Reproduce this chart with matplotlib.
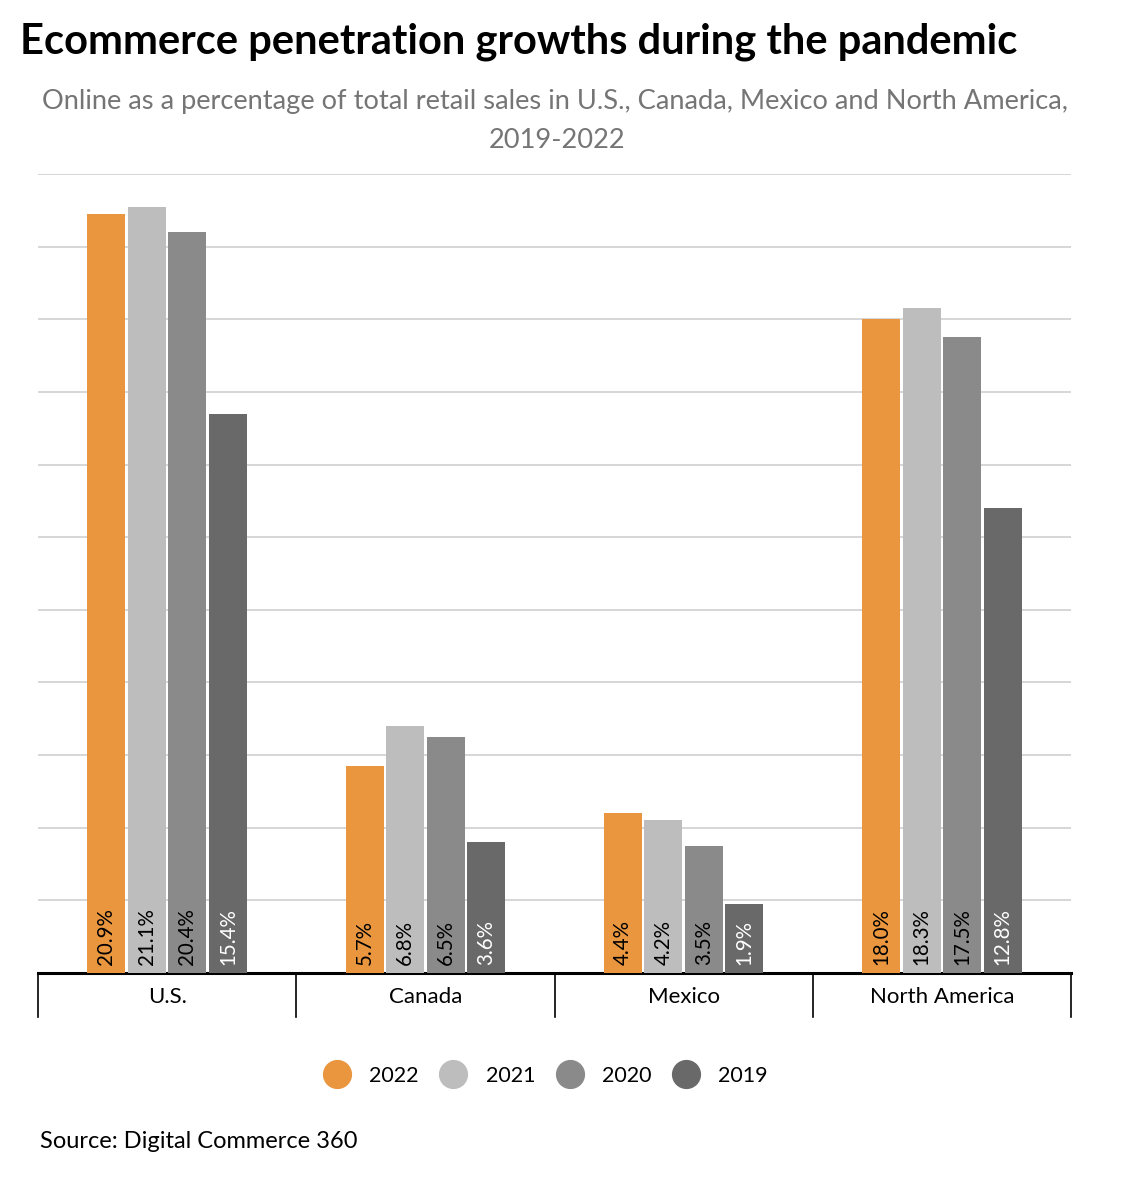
import numpy as np
import matplotlib.pyplot as plt
from matplotlib.lines import Line2D

plt.rcParams['font.family'] = ['Lato', 'DejaVu Sans']

# Datos
regiones = ["U.S.", "Canada", "Mexico", "North America"]
anios = ["2022", "2021", "2020", "2019"]
v2022 = [20.9, 5.7, 4.4, 18.0]
v2021 = [21.1, 6.8, 4.2, 18.3]
v2020 = [20.4, 6.5, 3.5, 17.5]
v2019 = [15.4, 3.6, 1.9, 12.8]
series = [v2022, v2021, v2020, v2019]

colores = ["#EA963F", "#BDBDBD", "#8A8A8A", "#696969"]
color_texto = ["black", "black", "black", "white"]

fig = plt.figure(figsize=(11.34, 11.88), dpi=100)
ax = fig.add_axes([38/1134, 1 - 973/1188, (1071-38)/1134, (973-174)/1188])

x = np.arange(len(regiones))
ancho = 0.147
paso = 0.157
for i, vals in enumerate(series):
    pos = x + (i - 1.5) * paso
    ax.bar(pos, vals, width=ancho, color=colores[i], zorder=3)
    for p, v in zip(pos, vals):
        ax.text(p, 0.22, f"{v:.1f}%", rotation=90, ha="center", va="bottom",
                fontsize=14.8, color=color_texto[i], zorder=4)

ax.set_xlim(-0.5, len(regiones) - 0.5)
ax.set_ylim(0, 22)
ax.set_yticks(np.arange(2, 23, 2))
ax.yaxis.grid(True, color="#d0d0d0", linewidth=1.2, zorder=0)
ax.tick_params(axis="y", left=False, labelleft=False)
ax.set_xticks([])
for s in ["top", "right", "left"]:
    ax.spines[s].set_visible(False)
ax.spines["bottom"].set_linewidth(2.2)
ax.spines["bottom"].set_color("black")

# separadores de categorías
for b in np.arange(-0.5, len(regiones), 1.0):
    ax.plot([b, b], [0, -1.21], color="black", linewidth=1.2, clip_on=False)
for xi, r in zip(x, regiones):
    ax.text(xi, -0.65, r, ha="center", va="center", fontsize=16, color="black")

fig.text(20/1134, 1 - 42/1188, "Ecommerce penetration growths during the pandemic",
         fontsize=30, fontweight="bold", ha="left", va="center")
fig.text(555/1134, 1 - 101/1188,
         "Online as a percentage of total retail sales in U.S., Canada, Mexico and North America,",
         fontsize=19.6, color="#757575", ha="center", va="center")
fig.text(557/1134, 1 - 141/1188, "2019-2022",
         fontsize=19.6, color="#757575", ha="center", va="center")

handles = [Line2D([0], [0], marker="o", linestyle="", markersize=20,
                  markerfacecolor=c, markeredgecolor=c) for c in colores]
fig.legend(handles, anios, loc="center", bbox_to_anchor=(546/1134, 1 - 1076/1188),
           ncol=4, frameon=False, fontsize=15.5, handletextpad=0.9,
           columnspacing=1.0, handlelength=1.2)

fig.text(40/1134, 1 - 1141/1188, "Source: Digital Commerce 360",
         fontsize=17, ha="left", va="center")

fig.savefig("out.png", dpi=100)
